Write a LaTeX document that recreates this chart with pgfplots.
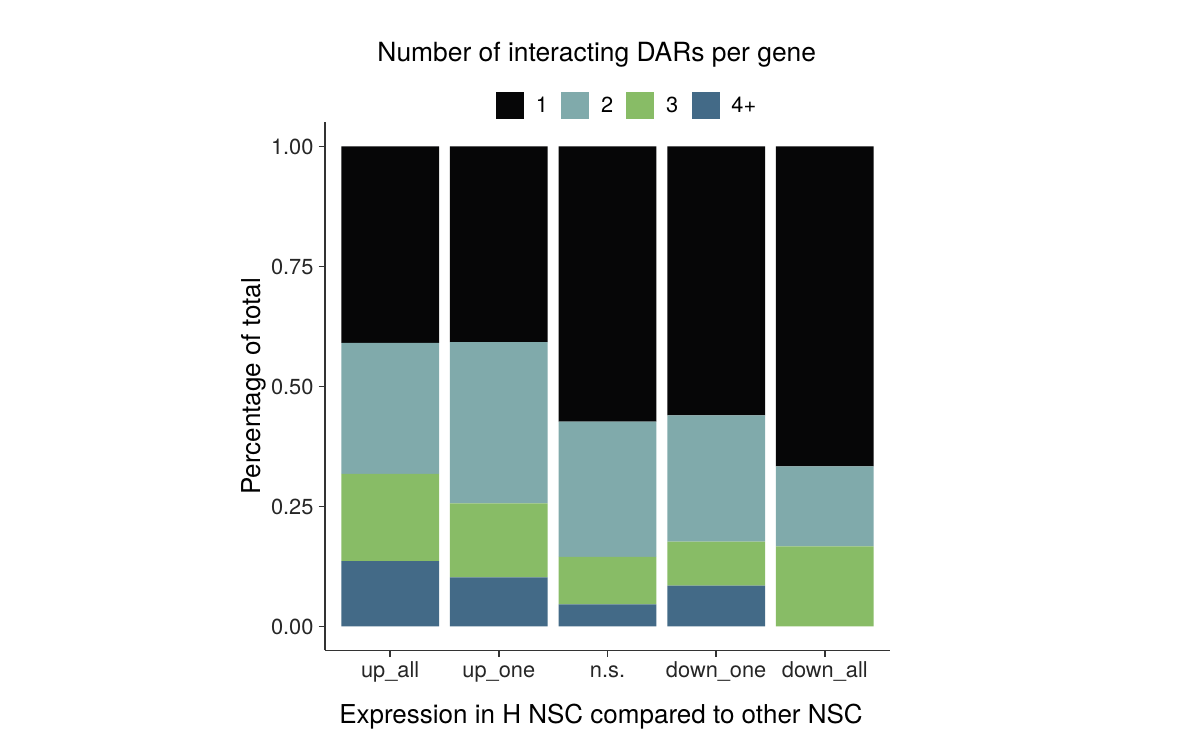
\documentclass[border=0pt]{standalone}
\usepackage{fontspec}
\setmainfont{TeX Gyre Heros}
\usepackage{pgfplots}
\pgfplotsset{compat=1.18}
\usepackage{pgfplotstable}
\definecolor{c1}{HTML}{060607}
\definecolor{c2}{HTML}{80AAAB}
\definecolor{c3}{HTML}{88BC66}
\definecolor{c4}{HTML}{436A87}
\definecolor{axc}{HTML}{333333}

% fraction of genes per category (bottom to top: 4+, 3, 2, 1)
\pgfplotstableread{
x n1 n2 n3 n4
0 0.4091 0.2727 0.1818 0.1364
1 0.4075 0.3360 0.1540 0.1025
2 0.5730 0.2820 0.0990 0.0460
3 0.5600 0.2630 0.0920 0.0850
4 0.6667 0.1667 0.1667 0.0000
}\data

\begin{document}
\begin{tikzpicture}[x=1pt,y=1pt]
\path[use as bounding box, fill=white] (0,0) rectangle (600,365.5);
\begin{axis}[
  at={(162.5pt,40.25pt)}, anchor=south west,
  scale only axis, width=282.5pt, height=264pt,
  xmin=-0.6, xmax=4.6, ymin=-0.05, ymax=1.05,
  ybar stacked, bar width=0.9,
  axis x line*=bottom, axis y line*=left,
  axis line style={-, draw=axc, line width=0.9pt},
  tick align=outside, major tick length=3.25pt,
  tick style={draw=axc, line width=0.9pt},
  xtick={0,1,2,3,4},
  xticklabels={up\_all, up\_one, n.s., down\_one, down\_all},
  ytick={0,0.25,0.5,0.75,1},
  yticklabels={0.00,0.25,0.50,0.75,1.00},
  /pgf/number format/assume math mode=true,
  ticklabel style={font=\fontsize{10.9}{13}\selectfont, text=black!85},
  xticklabel style={anchor=base, yshift=-10.5pt},
  yticklabel style={anchor=east, xshift=1pt},
  ylabel={Percentage of total},
  ylabel style={at={(axis description cs:-0.115,0.5)}, anchor=base, rotate=0, font=\fontsize{13}{15}\selectfont},
  xlabel={Expression in H NSC compared to other NSC},
  xlabel style={at={(axis description cs:0.4885,-0.1379)}, anchor=base, font=\fontsize{13}{15}\selectfont},
  title={Number of interacting DARs per gene},
  title style={at={(axis description cs:0.481,1.0932)}, anchor=base, font=\fontsize{13.2}{15}\selectfont},
  legend columns=4,
  legend style={at={(axis description cs:0.3027,1.0322)}, anchor=west,
    draw=none, fill=none, inner sep=0pt, outer sep=0pt,
    font=\fontsize{10.9}{13}\selectfont,
    nodes={inner sep=0pt, anchor=base west},
    /tikz/every odd column/.style={column sep=6pt},
    /tikz/every even column/.style={column sep=0pt}},
]
\addplot[fill=c4, draw=none, forget plot] table[x=x, y=n4] {\data};
\addplot[fill=c3, draw=none, forget plot] table[x=x, y=n3] {\data};
\addplot[fill=c2, draw=none, forget plot] table[x=x, y=n2] {\data};
\addplot[fill=c1, draw=none, forget plot] table[x=x, y=n1] {\data};
\addlegendimage{legend image code/.code={\fill[c1] (0pt,-3pt) rectangle (13.5pt,9.8pt);}}
\addlegendentry{\makebox[12.7pt][l]{1}}
\addlegendimage{legend image code/.code={\fill[c2] (0pt,-3pt) rectangle (13.5pt,9.8pt);}}
\addlegendentry{\makebox[12.7pt][l]{2}}
\addlegendimage{legend image code/.code={\fill[c3] (0pt,-3pt) rectangle (13.5pt,9.8pt);}}
\addlegendentry{\makebox[12.7pt][l]{3}}
\addlegendimage{legend image code/.code={\fill[c4] (0pt,-3pt) rectangle (13.5pt,9.8pt);}}
\addlegendentry{4+}
\end{axis}
\end{tikzpicture}
\end{document}
